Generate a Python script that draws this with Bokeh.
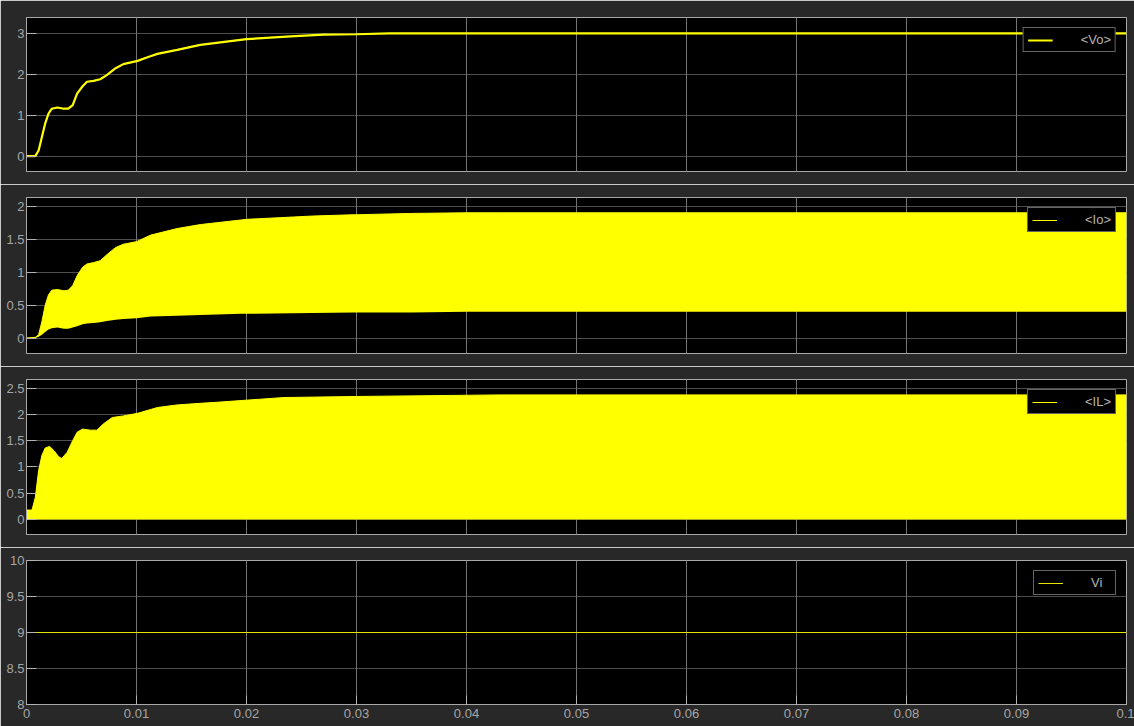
from bokeh.plotting import figure
from bokeh.layouts import column
from bokeh.models import FixedTicker, Grid, Legend, LegendItem, Range1d
from bokeh.embed import file_html
from bokeh.resources import INLINE

# ---------------- data ----------------
x_ticks = [0, 0.01, 0.02, 0.03, 0.04, 0.05, 0.06, 0.07, 0.08, 0.09, 0.1]
x_tick_labels = ["0", "0.01", "0.02", "0.03", "0.04", "0.05", "0.06", "0.07", "0.08", "0.09", "0.1"]

vo_t = [0, 0.0008, 0.0011, 0.0014, 0.0017, 0.002, 0.0023, 0.0028, 0.0034, 0.0038, 0.0042,
        0.0046, 0.0051, 0.0055, 0.0061, 0.0067, 0.0073, 0.0081, 0.0088, 0.0101, 0.011,
        0.0119, 0.0137, 0.0158, 0.02, 0.024, 0.027, 0.03, 0.033, 0.04, 0.05, 0.06, 0.07,
        0.08, 0.09, 0.1]
vo_v = [0, 0.0, 0.14, 0.47, 0.8, 1.04, 1.16, 1.19, 1.16, 1.16, 1.25,
        1.53, 1.71, 1.82, 1.84, 1.88, 1.98, 2.15, 2.25, 2.33, 2.42,
        2.5, 2.6, 2.72, 2.86, 2.93, 2.97, 2.98, 3.0, 3.0, 3.0, 3.0, 3.0,
        3.0, 3.0, 3.0]

io_t = [0, 0.0008, 0.0011, 0.0014, 0.0017, 0.002, 0.0023, 0.0028, 0.0034, 0.0038, 0.0042,
        0.0046, 0.0051, 0.0055, 0.0061, 0.0067, 0.0073, 0.0081, 0.0088, 0.01, 0.0113,
        0.0137, 0.0158, 0.0195, 0.02, 0.026, 0.0297, 0.03, 0.035, 0.04, 0.043, 0.1]
io_upper = [0, 0.01, 0.05, 0.25, 0.5, 0.66, 0.73, 0.74, 0.72, 0.73, 0.8,
            0.95, 1.08, 1.13, 1.15, 1.18, 1.27, 1.38, 1.43, 1.47, 1.57,
            1.67, 1.73, 1.8, 1.81, 1.86, 1.88, 1.88, 1.9, 1.91, 1.91, 1.91]
io_lower = [0, 0.0, 0.02, 0.05, 0.09, 0.13, 0.15, 0.16, 0.14, 0.14, 0.16,
            0.18, 0.21, 0.22, 0.23, 0.24, 0.26, 0.28, 0.29, 0.3, 0.33,
            0.34, 0.35, 0.37, 0.37, 0.38, 0.39, 0.39, 0.39, 0.4, 0.4, 0.4]

il_t = [0, 0.0005, 0.0008, 0.0011, 0.0014, 0.0017, 0.0021, 0.0025, 0.0029, 0.0032, 0.0037,
        0.0042, 0.0046, 0.0051, 0.0058, 0.0064, 0.007, 0.0078, 0.0088, 0.0101, 0.0119,
        0.0137, 0.0158, 0.0173, 0.0234, 0.03, 0.043, 0.1]
il_upper = [0.18, 0.18, 0.42, 0.93, 1.22, 1.36, 1.39, 1.31, 1.2, 1.16, 1.28,
            1.5, 1.66, 1.72, 1.7, 1.7, 1.82, 1.94, 1.97, 2.02, 2.13,
            2.18, 2.21, 2.23, 2.32, 2.34, 2.37, 2.37]
il_lower = [0] * len(il_t)

vi_t = [0, 0.1]
vi_v = [9, 9]

labels = ["<Vo>", "<Io>", "<IL>", "Vi"]
vo_yticks = [0, 1, 2, 3]
vo_ylabels = ["0", "1", "2", "3"]
io_yticks = [0, 0.5, 1, 1.5, 2]
io_ylabels = ["0", "0.5", "1", "1.5", "2"]
il_yticks = [0, 0.5, 1, 1.5, 2, 2.5]
il_ylabels = ["0", "0.5", "1", "1.5", "2", "2.5"]
vi_yticks = [8, 8.5, 9, 9.5, 10]
vi_ylabels = ["8", "8.5", "9", "9.5", "10"]

# ---------------- style ----------------
BG = "#282828"
FRAME = "#a8a8a8"
TICK = "#b4b4b4"
TXT = "#a6a6a6"
YEL = "#ffff00"
FONT = "Liberation Sans"
FS = "13px"


def style_axis(a, tick_in):
    a.axis_line_color = FRAME
    a.major_tick_line_color = TICK
    a.major_tick_in = tick_in
    a.major_tick_out = 0
    a.minor_tick_line_color = None
    a.major_label_text_color = TXT
    a.major_label_text_font = FONT
    a.major_label_text_font_size = FS


def panel(yr, yticks, ylabels, height, top, bottom, show_x):
    p = figure(width=1134, height=height, x_range=Range1d(0, 0.1), y_range=Range1d(*yr),
               output_backend="svg", toolbar_location=None,
               x_axis_location="below" if show_x else None,
               min_border_left=26, min_border_right=8,
               min_border_top=top, min_border_bottom=bottom,
               background_fill_color="black", border_fill_color=BG,
               outline_line_color=FRAME, outline_line_width=1)
    p.xgrid.visible = False
    p.add_layout(Grid(dimension=0, ticker=FixedTicker(ticks=x_ticks),
                      grid_line_color="#747474", grid_line_width=1))
    p.ygrid.ticker = FixedTicker(ticks=yticks)
    p.ygrid.grid_line_color = "#4e4e4e"
    ya = p.yaxis[0]
    ya.ticker = FixedTicker(ticks=yticks)
    ya.major_label_overrides = dict(zip(yticks, ylabels))
    style_axis(ya, 10)
    ya.major_label_standoff = 2
    if show_x:
        xa = p.xaxis[0]
        xa.ticker = FixedTicker(ticks=x_ticks)
        xa.major_label_overrides = dict(zip(x_ticks, x_tick_labels))
        style_axis(xa, 9)
        xa.major_label_standoff = 4
    return p


def add_legend(p, label, renderer):
    leg = Legend(items=[LegendItem(label=label, renderers=[renderer])],
                 location="top_right", margin=10, padding=4, spacing=0,
                 glyph_width=25, glyph_height=14, label_height=14,
                 label_standoff=28,
                 border_line_color="#c8c8c8", border_line_width=1,
                 background_fill_color="black", background_fill_alpha=1.0,
                 label_text_color="#b4b4b4", label_text_font=FONT,
                 label_text_font_size=FS)
    p.add_layout(leg, "center")


p1 = panel((-0.375, 3.39), vo_yticks, vo_ylabels, 184, 17, 13, False)
r1 = p1.line(vo_t, vo_v, line_color=YEL, line_width=2.2)
add_legend(p1, labels[0], r1)

p2 = panel((-0.236, 2.143), io_yticks, io_ylabels, 182, 13, 13, False)
p2.varea(x=io_t, y1=io_lower, y2=io_upper, fill_color=YEL)
r2 = p2.line(io_t, io_upper, line_color=YEL, line_width=1)
add_legend(p2, labels[1], r2)

p3 = panel((-0.285, 2.663), il_yticks, il_ylabels, 181, 13, 13, False)
p3.varea(x=il_t, y1=il_lower, y2=il_upper, fill_color=YEL)
r3 = p3.line(il_t, il_upper, line_color=YEL, line_width=1)
add_legend(p3, labels[2], r3)

p4 = panel((8, 10), vi_yticks, vi_ylabels, 179, 13, 22, True)
r4 = p4.line(vi_t, vi_v, line_color="#e6e600", line_width=1)
add_legend(p4, labels[3], r4)

layout = column(p1, p2, p3, p4, spacing=0)
html = file_html(layout, INLINE)
html = html.replace("<body>", '<body style="background-color:%s;">' % BG, 1)
open("out.html", "w").write(html)
